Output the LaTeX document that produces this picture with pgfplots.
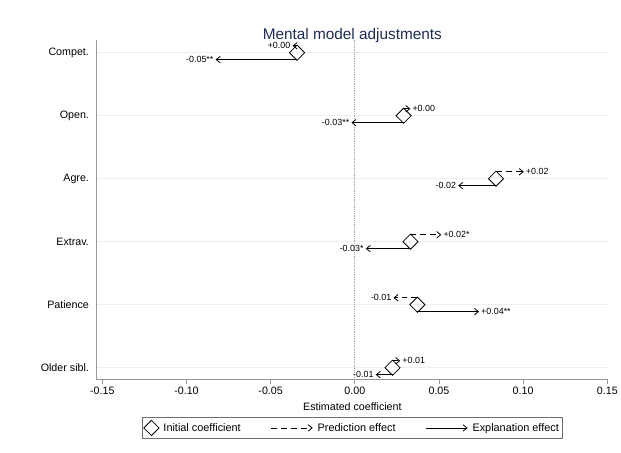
\documentclass[border=0pt]{standalone}
\usepackage{fontspec}
\setmainfont{Liberation Sans}
\usepackage{pgfplots}
\pgfplotsset{compat=1.18}
\usepackage{pgfplotstable}
\usetikzlibrary{arrows.meta}

\definecolor{gridc}{RGB}{232,240,241}
\definecolor{axc}{RGB}{150,150,150}
\definecolor{titc}{RGB}{30,45,85}
\definecolor{legc}{RGB}{110,110,110}

% initial coefficients
\pgfplotstableread{
y x0
6 -0.0343
5 0.0290
4 0.0839
3 0.0331
2 0.0372
1 0.0224
}\init

% labels at arrow tips, anchored east (arrow points left)
\pgfplotstableread{
y x1 lab
6.11 -0.0370 {+0.00}
2.11 0.0230 {-0.01}
5.89 -0.0827 {-0.05**}
4.89 -0.0020 {-0.03**}
3.89 0.0614 {-0.02}
2.89 0.0065 {-0.03*}
0.89 0.0124 {-0.01}
}\labE

% labels at arrow tips, anchored west (arrow points right)
\pgfplotstableread{
y x1 lab
5.11 0.0330 {+0.00}
4.11 0.1004 {+0.02}
3.11 0.0514 {+0.02*}
1.11 0.0270 {+0.01}
1.89 0.0738 {+0.04**}
}\labW

\tikzset{myarrow/.style={-{Straight Barb[length=4bp,width=6.5bp]}, line width=0.8bp}}
\pgfplotsset{
  pred/.style={black, myarrow, dash pattern=on 6bp off 4bp, forget plot},
  expl/.style={black, myarrow, forget plot}}

\begin{document}
\begin{tikzpicture}
\begin{axis}[
  scale only axis,
  width=515bp, height=342bp,
  xmin=-0.1535, xmax=0.1506,
  ymin=0.81, ymax=6.205,
  axis x line*=bottom, axis y line*=left,
  x axis line style={-, draw=axc, line width=0.9bp},
  y axis line style={-, draw=axc, line width=0.9bp},
  xtick={-0.15,-0.10,-0.05,0,0.05,0.10,0.15},
  xticklabels={-0.15,-0.10,-0.05,0.00,0.05,0.10,0.15},
  ytick={1,2,3,4,5,6},
  yticklabels={Older sibl.,Patience,Extrav.,Agre.,Open.,Compet.},
  tick align=outside,
  xtick style={draw=axc, line width=0.8bp},
  x tick label style={font=\fontsize{10.8}{12}\selectfont},
  y tick label style={font=\fontsize{10.8}{12}\selectfont},
  major tick length=4bp,
  y tick style={draw=none},
  ymajorgrids,
  grid style={draw=gridc, line width=0.8bp},
  xlabel={Estimated coefficient},
  xlabel style={font=\fontsize{10.8}{12}\selectfont, yshift=-1bp},
  title={Mental model adjustments},
  title style={font=\fontsize{15.5}{18}\selectfont, text=titc, yshift=-12bp},
  clip=false,
  legend columns=3,
  legend style={at={(0.5,0)}, anchor=north, yshift=-37.5bp,
    draw=legc, line width=0.8bp,
    font=\fontsize{11}{13}\selectfont,
    inner xsep=1.5bp, inner ysep=3bp,
    /tikz/every even column/.append style={column sep=28bp},
    /tikz/every odd column/.append style={column sep=2.5bp}},
  legend cell align=left,
]
% zero reference line
\addplot[forget plot, draw=gray!70, densely dotted, line width=0.8bp] coordinates {(0,0.81) (0,6.205)};

% prediction arrows (dashed, above)
\addplot[pred] coordinates {(-0.0343,6.11) (-0.0370,6.11)};
\addplot[pred] coordinates {(0.0290,5.11) (0.0330,5.11)};
\addplot[pred] coordinates {(0.0839,4.11) (0.1004,4.11)};
\addplot[pred] coordinates {(0.0331,3.11) (0.0514,3.11)};
\addplot[pred] coordinates {(0.0372,2.11) (0.0230,2.11)};
\addplot[pred] coordinates {(0.0224,1.11) (0.0270,1.11)};

% explanation arrows (solid, below)
\addplot[expl] coordinates {(-0.0343,5.89) (-0.0827,5.89)};
\addplot[expl] coordinates {(0.0290,4.89) (-0.0020,4.89)};
\addplot[expl] coordinates {(0.0839,3.89) (0.0614,3.89)};
\addplot[expl] coordinates {(0.0331,2.89) (0.0065,2.89)};
\addplot[expl] coordinates {(0.0372,1.89) (0.0738,1.89)};
\addplot[expl] coordinates {(0.0224,0.89) (0.0124,0.89)};

% labels
\addplot[forget plot, draw=none, mark=none, nodes near coords,
  point meta=explicit symbolic,
  nodes near coords style={anchor=east, font=\fontsize{9}{10}\selectfont, inner sep=2bp}]
  table[x=x1, y=y, meta=lab] {\labE};
\addplot[forget plot, draw=none, mark=none, nodes near coords,
  point meta=explicit symbolic,
  nodes near coords style={anchor=west, font=\fontsize{9}{10}\selectfont, inner sep=2bp}]
  table[x=x1, y=y, meta=lab] {\labW};

% initial coefficients
\addplot[only marks, mark=square, mark size=5.4bp,
  mark options={rotate=45, draw=black, line width=0.8bp, fill=none}]
  table[x=x0, y=y] {\init};
\addlegendentry{Initial coefficient}

\addlegendimage{legend image code/.code={\draw[black, myarrow, dash pattern=on 6bp off 4bp] (0bp,0bp) -- (42bp,0bp);}}
\addlegendentry{Prediction effect}
\addlegendimage{legend image code/.code={\draw[black, myarrow] (0bp,0bp) -- (42bp,0bp);}}
\addlegendentry{Explanation effect}
\end{axis}
\path (current axis.south west) ++(-97bp,-73bp) rectangle ++(621bp,455bp);
\end{tikzpicture}
\end{document}
